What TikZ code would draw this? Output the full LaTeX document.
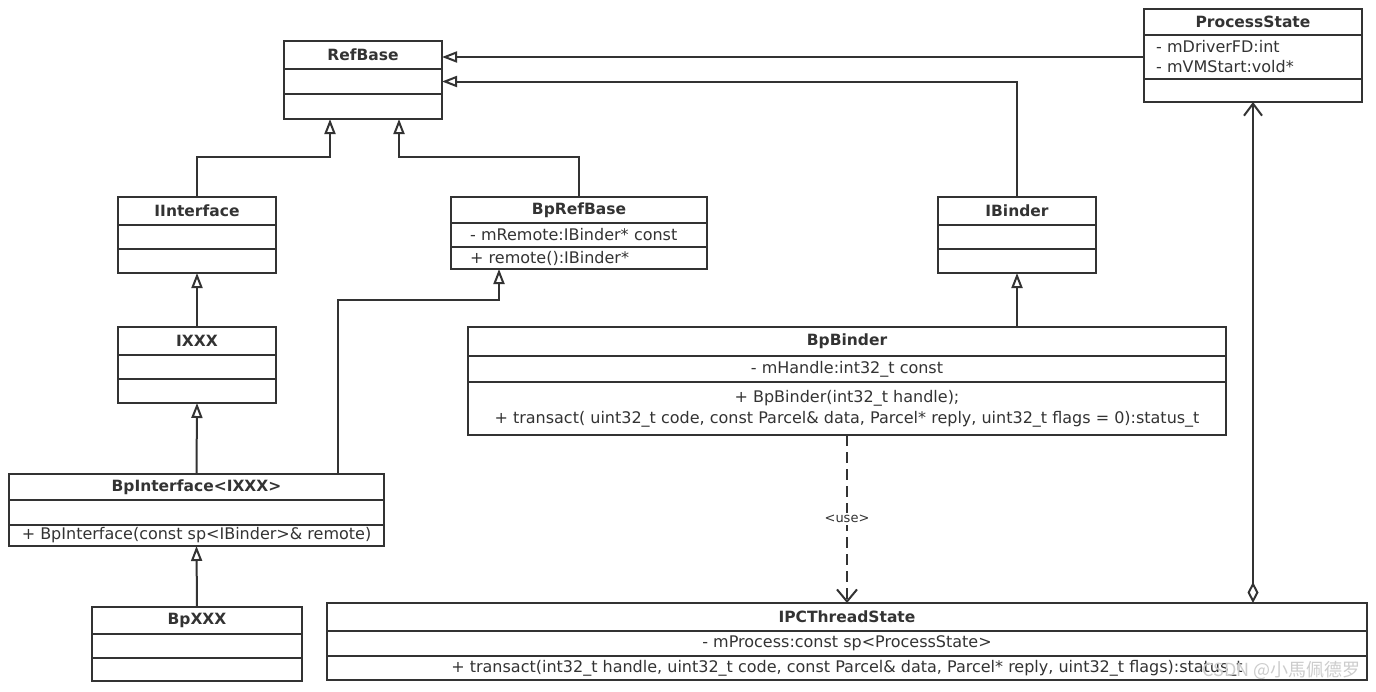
\documentclass[tikz,border=0pt]{standalone}
\usepackage{fontspec}
\setmainfont{DejaVu Sans}
\newfontfamily\cjkfont{Noto Sans CJK SC}
\usetikzlibrary{positioning, calc, arrows.meta}
\definecolor{umlgray}{HTML}{333333}

\tikzset{
  cls/.style={draw=umlgray, line width=2pt, fill=white, outer sep=0pt, inner sep=0pt,
    text=umlgray, font=\fontsize{16}{19}\selectfont},
  clstitle/.style={cls, font=\bfseries\fontsize{15.5}{18}\selectfont},
  clsmulti/.style={cls, font=\fontsize{16}{21}\selectfont},
  inherit/.style={draw=umlgray, line width=2pt, -{Triangle[open, length=15pt, width=11pt]}},
  usedep/.style={draw=umlgray, line width=2pt, dash pattern=on 11pt off 6pt,
    -{Straight Barb[length=12pt, width=20pt]}},
  uselabel/.style={fill=white, inner sep=2pt, text=umlgray, font=\fontsize{13}{15}\selectfont},
  aggr/.style={draw=umlgray, line width=2pt,
    {Diamond[open, length=21pt, width=11pt]}-{Straight Barb[length=12pt, width=18pt]}},
}

\begin{document}
\begin{tikzpicture}[x=1pt, y=-1pt]
\useasboundingbox (0,0) rectangle (1376,691);
\fill[white] (0,0) rectangle (1376,691);

% classes
\node[clstitle, minimum width=158, minimum height=28] (refbase) at (363,55) {RefBase};
\node[cls, minimum width=158, minimum height=25, below=0pt of refbase] (refbase-a) {};
\node[cls, minimum width=158, minimum height=25, below=0pt of refbase-a] (refbase-m) {};

\node[clstitle, minimum width=158, minimum height=28] (iinterface) at (197,211) {IInterface};
\node[cls, minimum width=158, minimum height=24, below=0pt of iinterface] (iinterface-a) {};
\node[cls, minimum width=158, minimum height=24, below=0pt of iinterface-a] (iinterface-m) {};

\node[clstitle, minimum width=158, minimum height=28] (ixxx) at (197,341) {IXXX};
\node[cls, minimum width=158, minimum height=24, below=0pt of ixxx] (ixxx-a) {};
\node[cls, minimum width=158, minimum height=24, below=0pt of ixxx-a] (ixxx-m) {};

\node[clstitle, minimum width=375, minimum height=26] (bpinterface) at (196.5,487) {BpInterface<IXXX>};
\node[cls, minimum width=375, minimum height=25, below=0pt of bpinterface] (bpinterface-a) {};
\node[cls, minimum width=375, minimum height=21, below=0pt of bpinterface-a] (bpinterface-m)
  {+ BpInterface(const sp<IBinder>\& remote)};

\node[clstitle, minimum width=210, minimum height=27] (bpxxx) at (197,620.5) {BpXXX};
\node[cls, minimum width=210, minimum height=24, below=0pt of bpxxx] (bpxxx-a) {};
\node[cls, minimum width=210, minimum height=23, below=0pt of bpxxx-a] (bpxxx-m) {};

\node[clstitle, minimum width=256, minimum height=26] (bprefbase) at (579,210) {BpRefBase};
\node[cls, minimum width=256, minimum height=24, text width=218, align=left,
  below=0pt of bprefbase] (bprefbase-a) {- mRemote:IBinder* const};
\node[cls, minimum width=256, minimum height=22, text width=218, align=left,
  below=0pt of bprefbase-a] (bprefbase-m) {+ remote():IBinder*};

\node[clstitle, minimum width=158, minimum height=28] (ibinder) at (1017,211) {IBinder};
\node[cls, minimum width=158, minimum height=24, below=0pt of ibinder] (ibinder-a) {};
\node[cls, minimum width=158, minimum height=24, below=0pt of ibinder-a] (ibinder-m) {};

\node[clstitle, minimum width=218, minimum height=26] (ps) at (1253,22) {ProcessState};
\node[cls, minimum width=218, minimum height=44, text width=194, align=left,
  font=\fontsize{16}{20}\selectfont, below=0pt of ps] (ps-a) {- mDriverFD:int\\- mVMStart:vold*};
\node[cls, minimum width=218, minimum height=23, below=0pt of ps-a] (ps-m) {};

\node[clstitle, minimum width=758, minimum height=29] (bpbinder) at (847,341.5) {BpBinder};
\node[cls, minimum width=758, minimum height=26, below=0pt of bpbinder] (bpbinder-a)
  {- mHandle:int32\_t const};
\node[clsmulti, minimum width=758, minimum height=53, align=center, below=0pt of bpbinder-a] (bpbinder-m)
  {+ BpBinder(int32\_t handle);\\
   + transact( uint32\_t code, const Parcel\& data, Parcel* reply, uint32\_t flags = 0):status\_t};

\node[clstitle, minimum width=1040, minimum height=28] (ipc) at (847,617) {IPCThreadState};
\node[cls, minimum width=1040, minimum height=25, below=0pt of ipc] (ipc-a)
  {- mProcess:const sp<ProcessState>};
\node[cls, minimum width=1040, minimum height=24, below=0pt of ipc-a] (ipc-m)
  {+ transact(int32\_t handle, uint32\_t code, const Parcel\& data, Parcel* reply, uint32\_t flags):status\_t};

% generalisations
\draw[inherit] (ps-a.west) -- (ps-a.west -| refbase.east);
\draw[inherit] (ibinder.north) |- (refbase-a.east);
\draw[inherit] (iinterface.north) -- ++(0,-40) -| ($(refbase-m.south)+(-33,0)$);
\draw[inherit] (bprefbase.north) -- ++(0,-40) -| ($(refbase-m.south)+(36,0)$);
\draw[inherit] (ixxx.north) -- (iinterface-m.south);
\draw[inherit] (bpinterface.north) -- (ixxx-m.south);
\draw[inherit] ($(bpinterface.north)+(141,0)$) -- ++(0,-174) -| ($(bprefbase-m.south)+(-80,0)$);
\draw[inherit] (bpxxx.north) -- (bpinterface-m.south);
\draw[inherit] (bpbinder.north -| ibinder-m.south) -- (ibinder-m.south);

% use and aggregation
\draw[usedep] (bpbinder-m.south) -- node[uselabel] (use) {<use>} (ipc.north);
\draw[aggr] (ipc.north -| ps-m.south) -- (ps-m.south);

\node[anchor=east, text=gray!40, font=\cjkfont\fontsize{18}{20}\selectfont] (wm) at (1364,670)
  {CSDN @小馬佩德罗};
\end{tikzpicture}
\end{document}
